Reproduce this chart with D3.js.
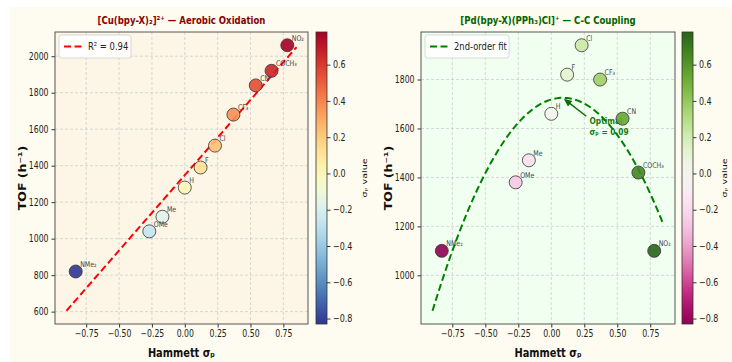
<!DOCTYPE html>
<html>
<head>
<meta charset="utf-8">
<script src="https://cdn.jsdelivr.net/npm/d3@7"></script>
<style>
  body { margin: 0; background: #ffffff; }
  svg text { font-family: "DejaVu Sans", sans-serif; }
</style>
</head>
<body>
<div id="chart"></div>
<script>
// substituent data (Hammett sigma_p vs turnover frequency)
const substituents = ["NMe₂", "OMe", "Me", "H", "F", "Cl", "CF₃", "CN", "COCH₃", "NO₂"];
const sigmaP = [-0.83, -0.27, -0.17, 0.00, 0.12, 0.23, 0.37, 0.54, 0.66, 0.78];
const tofCu = [820, 1040, 1120, 1280, 1390, 1510, 1680, 1840, 1920, 2060];
const tofPd = [1100, 1380, 1470, 1660, 1820, 1940, 1800, 1640, 1420, 1100];

const xTicks = [-0.75, -0.5, -0.25, 0, 0.25, 0.5, 0.75];
const cuTicks = [600, 800, 1000, 1200, 1400, 1600, 1800, 2000];
const pdTicks = [1000, 1200, 1400, 1600, 1800];
const cbarTicks = [-0.8, -0.6, -0.4, -0.2, 0.0, 0.2, 0.4, 0.6];
const fitRange = [-0.9, 0.85];

const width = 732, height = 362;
const SQ = 0.8; // the figure looks horizontally squeezed
const minus = s => s.replace("-", "\u2212");

const svg = d3.select("#chart").append("svg")
  .attr("width", width)
  .attr("height", height);

svg.append("rect").attr("width", width).attr("height", height).attr("fill", "#ffffff");
svg.append("rect").attr("x", 10).attr("y", 7).attr("width", width - 10).attr("height", height - 7)
  .attr("fill", "#fefcf0");

// narrow horizontal text around its own x anchor
function squeeze(sel) {
  sel.each(function () {
    const t = d3.select(this);
    const x = +t.attr("x") || 0;
    t.attr("transform", `translate(${x},0) scale(${SQ},1) translate(${-x},0)`);
  });
}
function vlabel(g, cx, cy, txt, size, bold) {
  g.append("text")
    .attr("transform", `translate(${cx},${cy}) scale(${SQ},1) rotate(-90)`)
    .attr("text-anchor", "middle").attr("dy", "0.35em")
    .attr("font-size", size).attr("font-weight", bold ? "bold" : "normal").attr("fill", "#111")
    .text(txt);
}

// least squares helpers
function linFit(xs, ys) {
  const mx = d3.mean(xs), my = d3.mean(ys);
  const sxy = d3.sum(xs, (x, i) => (x - mx) * (ys[i] - my));
  const sxx = d3.sum(xs, x => (x - mx) ** 2);
  const b = sxy / sxx;
  return x => my + b * (x - mx);
}
function quadFit(xs, ys) {
  // normal equations for y = a x^2 + b x + c
  const S = k => d3.sum(xs, x => x ** k);
  const T = k => d3.sum(xs, (x, i) => x ** k * ys[i]);
  const M = [[S(4), S(3), S(2), T(2)], [S(3), S(2), S(1), T(1)], [S(2), S(1), xs.length, T(0)]];
  for (let i = 0; i < 3; i++) {
    for (let j = i + 1; j < 3; j++) {
      const f = M[j][i] / M[i][i];
      for (let k = i; k < 4; k++) M[j][k] -= f * M[i][k];
    }
  }
  const c = M[2][3] / M[2][2];
  const b = (M[1][3] - M[1][2] * c) / M[1][1];
  const a = (M[0][3] - M[0][2] * c - M[0][1] * b) / M[0][0];
  const f = x => a * x * x + b * x + c;
  f.vertex = -b / (2 * a);
  return f;
}

function drawPanel(cfg) {
  const { x0, x1, y0, y1 } = cfg;
  const g = svg.append("g");
  const fitX = d3.range(100).map(i => fitRange[0] + (fitRange[1] - fitRange[0]) * i / 99);
  const fitY = fitX.map(cfg.fit);

  // matplotlib-like 5% margins
  const xs = sigmaP.concat(fitRange);
  const ys = cfg.tof.concat(fitY);
  const xe = d3.extent(xs), ye = d3.extent(ys);
  const xPad = (xe[1] - xe[0]) * 0.05, yPad = (ye[1] - ye[0]) * 0.05;
  const x = d3.scaleLinear().domain([xe[0] - xPad, xe[1] + xPad]).range([x0, x1]);
  const y = d3.scaleLinear().domain([ye[0] - yPad, ye[1] + yPad]).range([y1, y0]);

  const vmin = d3.min(sigmaP), vmax = d3.max(sigmaP);
  const color = v => cfg.cmap((v - vmin) / (vmax - vmin));

  g.append("rect").attr("x", x0).attr("y", y0).attr("width", x1 - x0).attr("height", y1 - y0)
    .attr("fill", cfg.face);

  // grid
  g.selectAll(".gx").data(xTicks).enter().append("line")
    .attr("x1", d => x(d)).attr("x2", d => x(d)).attr("y1", y0).attr("y2", y1)
    .attr("stroke", "#c8c8c8").attr("stroke-width", 0.7).attr("stroke-dasharray", "3,2");
  g.selectAll(".gy").data(cfg.yTicks).enter().append("line")
    .attr("x1", x0).attr("x2", x1).attr("y1", d => y(d)).attr("y2", d => y(d))
    .attr("stroke", "#c8c8c8").attr("stroke-width", 0.7).attr("stroke-dasharray", "3,2");

  // axes
  const xAxis = g.append("g").attr("transform", `translate(0,${y1})`)
    .call(d3.axisBottom(x).tickValues(xTicks).tickSize(3.5).tickPadding(3)
      .tickFormat(d => minus(d3.format(".2f")(d))));
  const yAxis = g.append("g").attr("transform", `translate(${x0},0)`)
    .call(d3.axisLeft(y).tickValues(cfg.yTicks).tickSize(3.5).tickPadding(3).tickFormat(d3.format("d")));
  [xAxis, yAxis].forEach(a => {
    a.select(".domain").remove();
    a.selectAll("line").attr("stroke", "#333");
    a.selectAll("text").attr("font-size", "9.7px").attr("fill", "#222").call(squeeze);
  });

  // fit line
  g.append("path")
    .datum(fitX.map((v, i) => [v, fitY[i]]))
    .attr("d", d3.line().x(d => x(d[0])).y(d => y(d[1])))
    .attr("fill", "none").attr("stroke", cfg.fitColor).attr("stroke-width", 2)
    .attr("stroke-dasharray", "7,3.5");

  if (cfg.annotate) {
    const vx = cfg.fit.vertex, vy = cfg.fit(vx);
    const tx = 0.29, ty = 1620;
    g.append("line")
      .attr("x1", x(0.265)).attr("y1", y(1650))
      .attr("x2", x(vx) + 3).attr("y2", y(vy) + 2.5)
      .attr("stroke", "#0d6b0d").attr("stroke-width", 1.5);
    const ang = Math.atan2(y(vy) - y(1650), x(vx) - x(0.265));
    const hx = x(vx) + 1, hy = y(vy) + 1;
    const hl = 8, hw = 3.5;
    const p = [
      [hx, hy],
      [hx - hl * Math.cos(ang) + hw * Math.sin(ang), hy - hl * Math.sin(ang) - hw * Math.cos(ang)],
      [hx - hl * Math.cos(ang) - hw * Math.sin(ang), hy - hl * Math.sin(ang) + hw * Math.cos(ang)]
    ];
    g.append("path").attr("d", d3.line()(p) + "Z").attr("fill", "#0d6b0d");
    const t = g.append("text").attr("x", x(tx)).attr("y", y(ty))
      .attr("font-size", "9.3px").attr("font-weight", "bold").attr("fill", "#137a13");
    t.append("tspan").attr("x", x(tx)).text("Optimal");
    t.append("tspan").attr("x", x(tx)).attr("dy", 11.5).text(`σₚ = ${vx.toFixed(2)}`);
    squeeze(t);
  }

  // points
  g.selectAll(".pt").data(sigmaP).enter().append("circle")
    .attr("cx", d => x(d)).attr("cy", (d, i) => y(cfg.tof[i]))
    .attr("r", 6.5)
    .attr("fill", d => color(d)).attr("fill-opacity", 0.9)
    .attr("stroke", "#333").attr("stroke-width", 0.8);

  g.selectAll(".lb").data(substituents).enter().append("text")
    .attr("x", (d, i) => x(sigmaP[i]) + 4.5)
    .attr("y", (d, i) => y(cfg.tof[i]) - 4.5)
    .attr("font-size", "7.8px").attr("fill", "#444")
    .text(d => d)
    .call(squeeze);

  // frame
  g.append("rect").attr("x", x0).attr("y", y0).attr("width", x1 - x0).attr("height", y1 - y0)
    .attr("fill", "none").attr("stroke", "#555").attr("stroke-width", 1);

  // legend
  const lg = g.append("g").attr("transform", `translate(${x0 + 4},${y0 + 3})`);
  lg.append("rect").attr("width", cfg.legendW).attr("height", 23).attr("rx", 2.5)
    .attr("fill", "#ffffff").attr("fill-opacity", 0.85).attr("stroke", "#d0d0d0").attr("stroke-width", 0.8);
  lg.append("line").attr("x1", 5).attr("x2", 24).attr("y1", 11.5).attr("y2", 11.5)
    .attr("stroke", cfg.fitColor).attr("stroke-width", 2).attr("stroke-dasharray", "7,3.5");
  lg.append("text").attr("x", 29).attr("y", 15.5).attr("font-size", "10.5px").attr("fill", "#222")
    .text(cfg.legendText).call(squeeze);

  // title and labels
  g.append("text").attr("x", (x0 + x1) / 2).attr("y", 24).attr("text-anchor", "middle")
    .attr("font-size", "10.7px").attr("font-weight", "bold").attr("fill", cfg.titleColor)
    .text(cfg.title).call(squeeze);
  g.append("text").attr("x", (x0 + x1) / 2).attr("y", 357).attr("text-anchor", "middle")
    .attr("font-size", "12.3px").attr("font-weight", "bold").attr("fill", "#111")
    .text("Hammett σₚ").call(squeeze);
  vlabel(g, x0 - 33, (y0 + y1) / 2, "TOF (h⁻¹)", "12.5px", true);

  // colorbar
  const cb = { x: cfg.cbX, w: 11 };
  const cy = d3.scaleLinear().domain([vmin, vmax]).range([y1, y0]);
  const gradId = "grad" + cfg.id;
  const grad = svg.append("defs").append("linearGradient").attr("id", gradId)
    .attr("x1", 0).attr("y1", 1).attr("x2", 0).attr("y2", 0);
  d3.range(0, 1.0001, 0.05).forEach(t => {
    grad.append("stop").attr("offset", t).attr("stop-color", cfg.cmap(t));
  });
  g.append("rect").attr("x", cb.x).attr("y", y0).attr("width", cb.w).attr("height", y1 - y0)
    .attr("fill", `url(#${gradId})`).attr("stroke", "#333").attr("stroke-width", 0.8);
  const cax = g.append("g").attr("transform", `translate(${cb.x + cb.w},0)`)
    .call(d3.axisRight(cy).tickValues(cbarTicks).tickSize(3.5).tickPadding(2.5)
      .tickFormat(d => minus(d3.format(".1f")(d))));
  cax.select(".domain").remove();
  cax.selectAll("line").attr("stroke", "#333");
  cax.selectAll("text").attr("font-size", "10px").attr("fill", "#222").call(squeeze);
  vlabel(g, cb.x + cb.w + cfg.cbLabelGap, (y0 + y1) / 2, "σₚ value", "9.5px", false);
}

drawPanel({
  id: "cu", x0: 55, x1: 308, y0: 32, y1: 324, cbX: 316, cbLabelGap: 37,
  face: "#fdf5e6", tof: tofCu, yTicks: cuTicks,
  fit: linFit(sigmaP, tofCu), fitColor: "#ff0000",
  cmap: t => d3.interpolateRdYlBu(1 - t),
  title: "[Cu(bpy-X)₂]²⁺ — Aerobic Oxidation", titleColor: "#8b0000",
  legendText: "R² = 0.94", legendW: 72, annotate: false
});

drawPanel({
  id: "pd", x0: 421, x1: 675, y0: 32, y1: 324, cbX: 682, cbLabelGap: 31,
  face: "#f0fff0", tof: tofPd, yTicks: pdTicks,
  fit: quadFit(sigmaP, tofPd), fitColor: "#008000",
  cmap: t => d3.interpolatePiYG(t),
  title: "[Pd(bpy-X)(PPh₃)Cl]⁺ — C-C Coupling", titleColor: "#006400",
  legendText: "2nd-order fit", legendW: 84, annotate: true
});
</script>
</body>
</html>
